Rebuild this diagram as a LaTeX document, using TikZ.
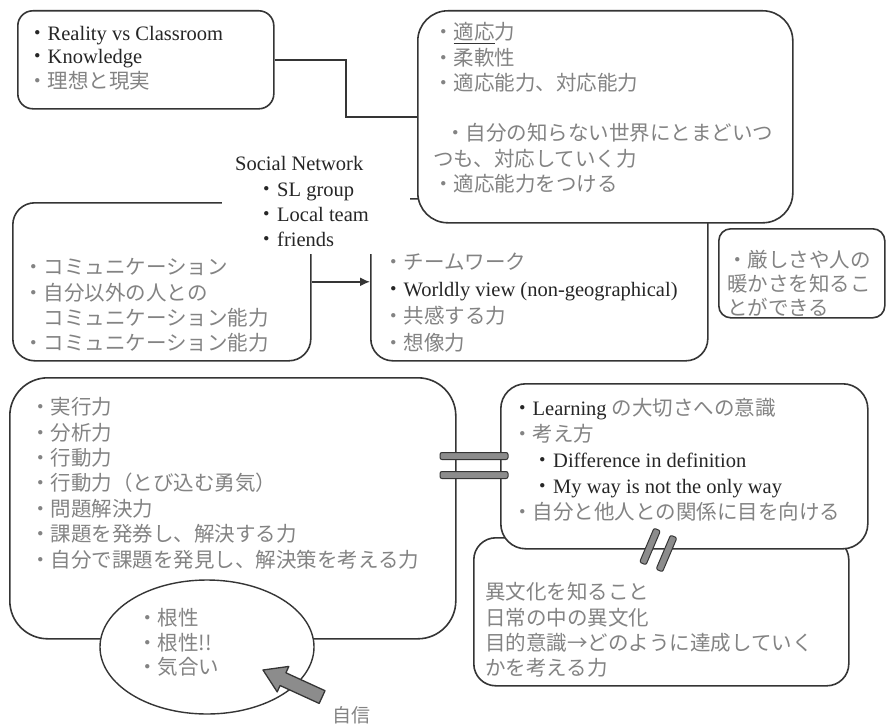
\documentclass[tikz,border=0pt]{standalone}
\usepackage{fontspec}
\setmainfont{Liberation Serif}
\newfontfamily\cjk{Noto Sans CJK JP}
\usetikzlibrary{shapes.geometric,arrows.meta,calc}
\definecolor{edgec}{HTML}{353535}
\definecolor{jpc}{HTML}{838383}
\definecolor{enc}{HTML}{262626}
\definecolor{barc}{HTML}{8C8C8C}
\newcommand\jp[1]{{\cjk\color{jpc}#1}}
\newcommand\bl{{\cjk\color{jpc}・}}
\newcommand\bk{{\cjk\color{enc}・}}
\newcommand\topstrut{\rule{0pt}{20pt}}
\newcommand\ulword[1]{\setbox0\hbox{#1}\rlap{\color{edgec}\rule[-4pt]{\wd0}{1.1pt}}\box0}
\begin{document}
\begin{tikzpicture}[x=1pt,y=-1pt,
  box/.style={draw=edgec, line width=1.6pt, fill=white, anchor=north west, inner sep=0pt},
  txt/.style={anchor=north west, inner sep=0pt, align=left, text=enc,
    font=\fontsize{20.5}{25.3}\selectfont},
  conn/.style={draw=edgec, line width=1.6pt},
  barshape/.style={draw=edgec, line width=1pt, fill=barc, rounded corners=2pt,
    inner sep=0pt, minimum height=7pt}
]
\fill[white] (0,0) rectangle (886,725);
\useasboundingbox (0,0) rectangle (886,725);

% middle row
\node[box, rounded corners=22pt, minimum width=298pt, minimum height=158pt] (mlbox) at (12,202) {};
\node[box, rounded corners=22pt, minimum width=337pt, minimum height=162pt] (mrbox) at (370,198) {};
\node[fill=white, inner sep=0pt, anchor=north west, minimum width=188pt, minimum height=104pt] (snmask) at (222,150) {};
\node[txt] (sntext) at (235,150.5) {\topstrut Social Network\\
  \hspace{21.5pt}\bk SL group\\
  \hspace{21.5pt}\bk Local team\\
  \hspace{21.5pt}\bk friends};
\node[txt] (mltext) at (23,254.5) {\topstrut\bl\jp{コミュニケーション}\\
  \bl\jp{自分以外の人との}\\
  \jp{　コミュニケーション能力}\\
  \bl\jp{コミュニケーション能力}};
\node[txt, font=\fontsize{20.5}{27}\selectfont] (mrtext) at (383,249.5) {\topstrut\bl\jp{チームワーク}\\
  \bk Worldly view (non-geographical)\\
  \bl\jp{共感する力}\\
  \bl\jp{想像力}};
\draw[conn, -{Latex[length=10pt,width=9pt]}] (mlbox.east) -- (mlbox.east -| mrbox.west);

% top row
\node[box, rounded corners=30pt, minimum width=375pt, minimum height=212pt] (trbox) at (417,10) {};
\node[txt] (trtext) at (433,19.5) {\topstrut\bl\jp{\ulword{適応}力}\\
  \bl\jp{柔軟性}\\
  \bl\jp{適応能力、対応能力}\\
  \mbox{}\\
  \hspace{12pt}\bl\jp{自分の知らない世界にとまどいつ}\\
  \jp{つも、対応していく力}\\
  \bl\jp{適応能力をつける}};
\node[box, rounded corners=15pt, minimum width=256pt, minimum height=98pt] (tlbox) at (17,10) {};
\node[txt] (tltext) at (27,20.5) {\topstrut\bk Reality vs Classroom\\[-3pt]
  \bk Knowledge\\
  \bl\jp{理想と現実}};
\draw[conn] (tlbox.east) -| ($(tlbox.east)!0.5!(trbox.west)$) |- (trbox.west);

% small box on the right
\node[box, rounded corners=12pt, minimum width=166pt, minimum height=89pt] (smbox) at (718,228) {};
\node[txt, font=\fontsize{20.5}{24}\selectfont] (smtext) at (727,247.5) {\topstrut\bl\jp{厳しさや人の}\\
  \jp{暖かさを知るこ}\\
  \jp{とができる}};

% bottom right pair
\node[box, rounded corners=22pt, minimum width=375pt, minimum height=148pt] (lrbox) at (473,537) {};
\node[txt] (lrtext) at (485,579.5) {\topstrut\jp{異文化を知ること}\\
  \jp{日常の中の異文化}\\
  \jp{目的意識→どのように達成していく}\\
  \jp{かを考える力}};
\node[box, rounded corners=25pt, minimum width=367pt, minimum height=165pt] (urbox) at (500,383) {};
\node[txt, font=\fontsize{20.5}{26}\selectfont] (urtext) at (512,395.5) {\topstrut\bk Learning \jp{の大切さへの意識}\\
  \bl\jp{考え方}\\
  \jp{　}\bk Difference in definition\\
  \jp{　}\bk My way is not the only way\\
  \bl\jp{自分と他人との関係に目を向ける}};

% bottom left box and ellipse
\node[box, rounded corners=38pt, minimum width=446pt, minimum height=261pt] (blbox) at (9,377) {};
\node[txt, font=\fontsize{20.5}{25.4}\selectfont] (bltext) at (30,394.5) {\topstrut\bl\jp{実行力}\\
  \bl\jp{分析力}\\
  \bl\jp{行動力}\\
  \bl\jp{行動力（とび込む勇気）}\\
  \bl\jp{問題解決力}\\
  \bl\jp{課題を発券し、解決する力}\\
  \bl\jp{自分で課題を発見し、解決策を考える力}};
\node[ellipse, draw=edgec, line width=1.4pt, fill=white, inner sep=0pt,
  minimum width=214pt, minimum height=134pt] (gut) at (207,647) {};
\node[txt, font=\fontsize{20.5}{24.5}\selectfont] (guttext) at (137,605.5) {\topstrut\bl\jp{根性}\\
  \bl\jp{根性!!}\\
  \bl\jp{気合い}};

% link marks
\node[barshape, minimum width=68pt] (eqa) at (474,456) {};
\node[barshape, minimum width=68pt] (eqb) at (474,475) {};
\node[barshape, minimum width=37pt, rotate=67] (sla) at (650,546.5) {};
\node[barshape, minimum width=37pt, rotate=67] (slb) at (666.5,553.5) {};

% block arrow pointing into the ellipse
\begin{scope}[shift={(263,670)}, rotate=155.4]
  \filldraw[draw=edgec, fill=barc, line width=1.3pt, line join=round]
    (0,0) -- (-22,14) -- (-22,7) -- (-65,7) -- (-65,-7) -- (-22,-7) -- (-22,-14) -- cycle;
\end{scope}
\node[font=\cjk\fontsize{19}{19}\selectfont, text=jpc, inner sep=0pt] (conf) at (351,715) {自信};
\end{tikzpicture}
\end{document}
